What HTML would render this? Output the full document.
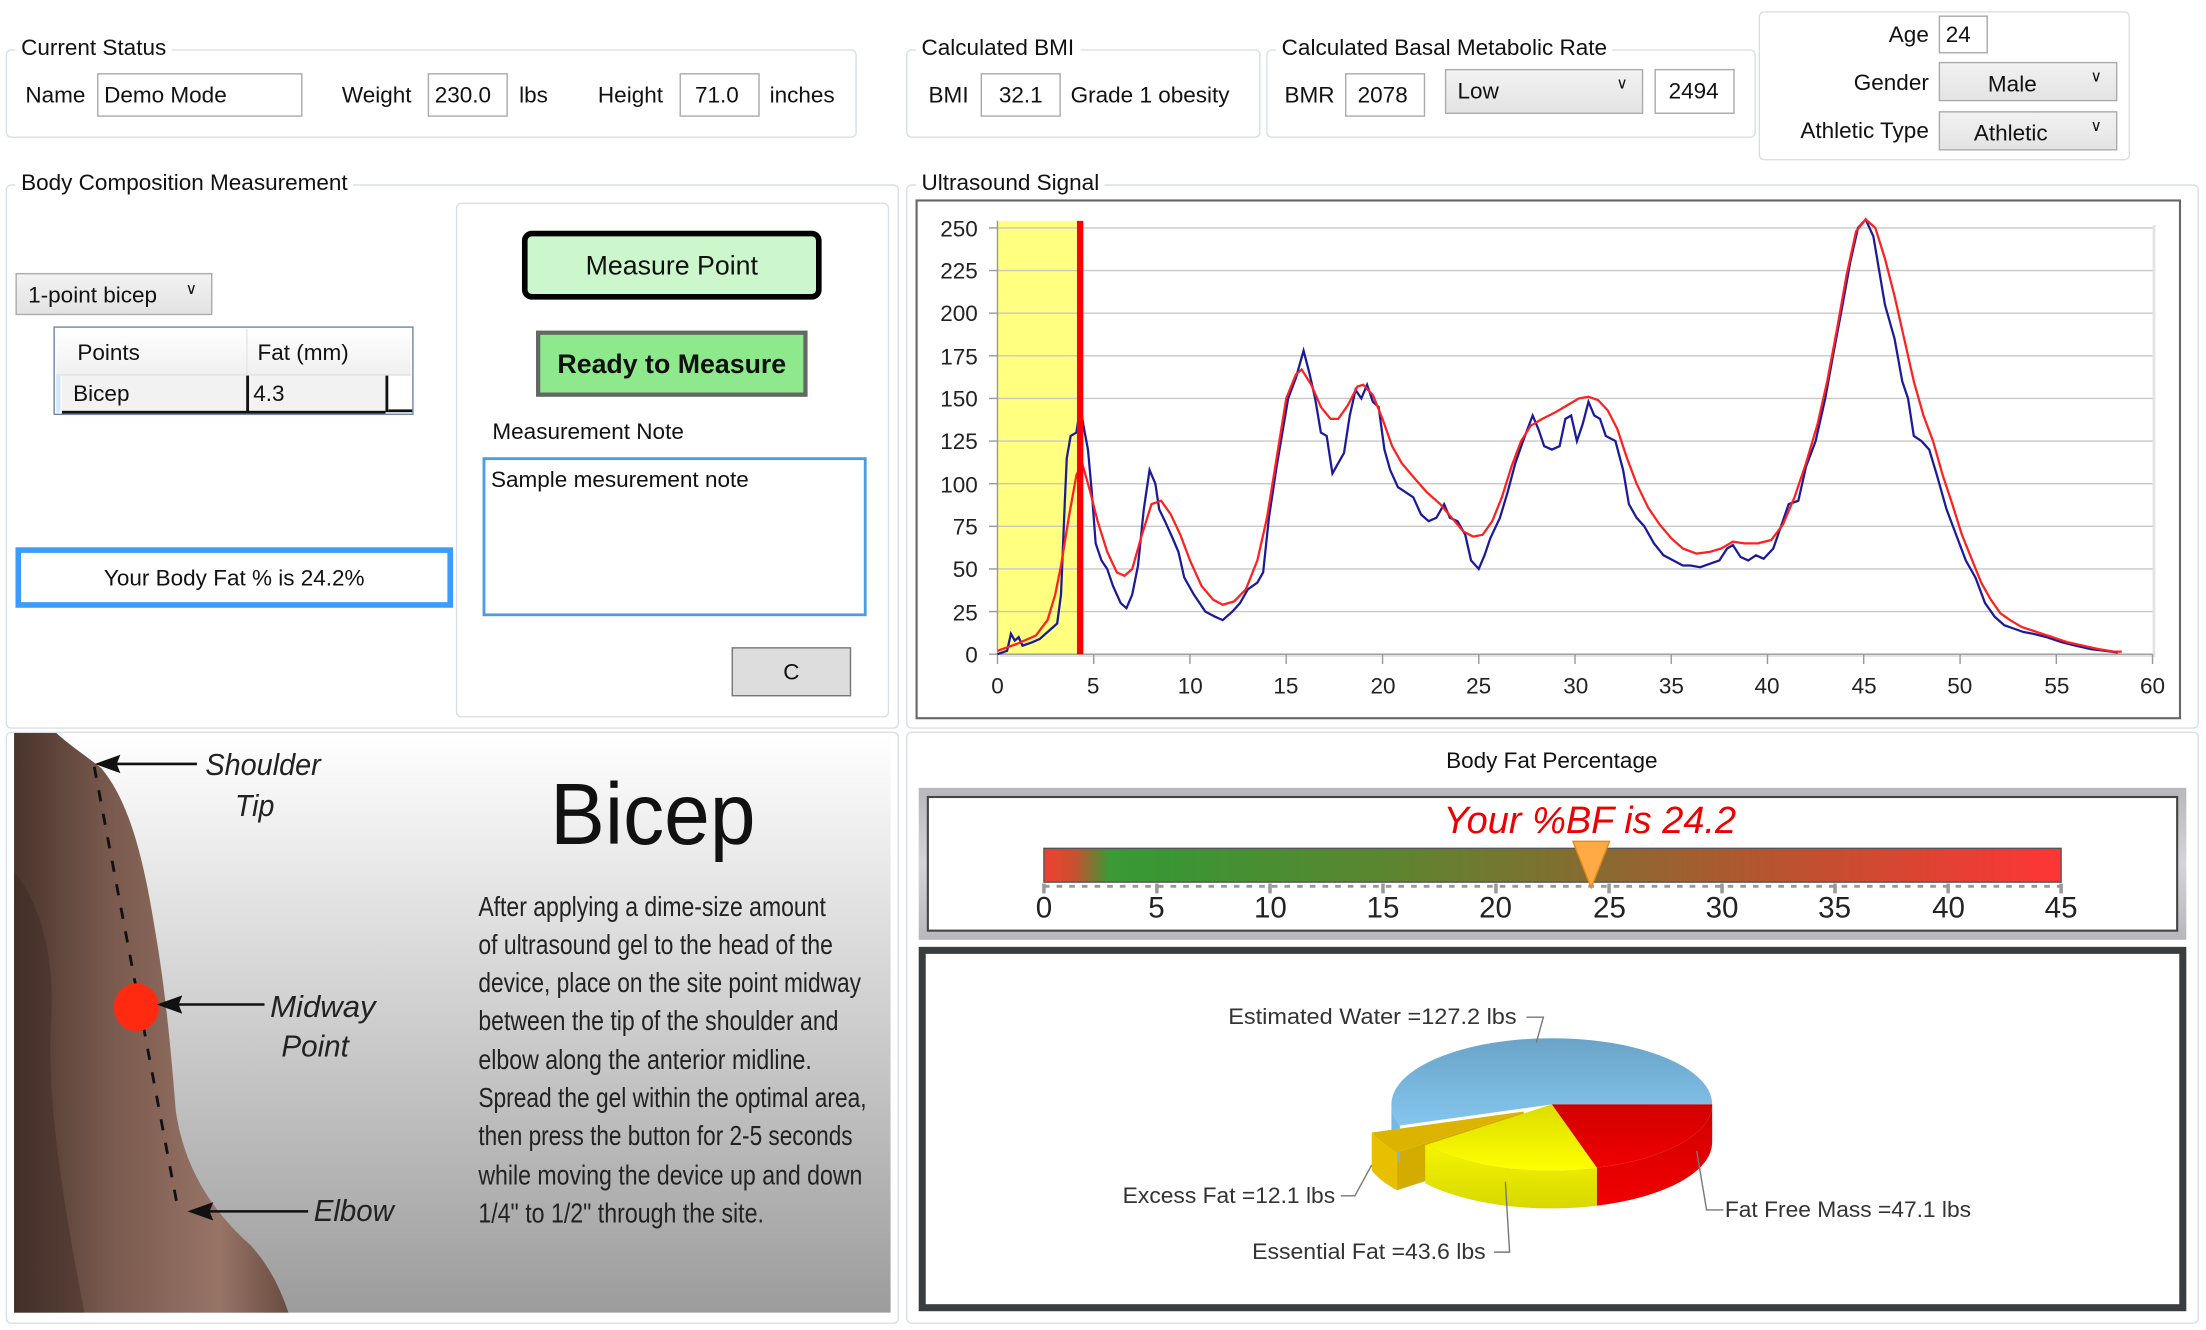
<!DOCTYPE html>
<html><head><meta charset="utf-8"><style>
html,body{margin:0;padding:0;background:#fff;width:2206px;height:1330px;overflow:hidden}
#w{position:absolute;left:0;top:0;width:1568px;height:945px;transform:scale(1.40689);transform-origin:0 0;font-family:"Liberation Sans",sans-serif;font-size:16px;color:#111}
.a{position:absolute}
.g{position:absolute;border:1.5px solid #d8e0e6;border-radius:4px}
.t{position:absolute;background:#fff;padding:0 4px;font-size:16px;line-height:18px}
.in{position:absolute;border:1px solid #aaa;background:#fff;font-size:16px;line-height:31px;padding-left:4px;box-sizing:border-box}
.cb{position:absolute;border:1px solid #aaa;background:linear-gradient(#f2f2f2,#e3e3e3);box-sizing:border-box;font-size:16px}
.cb i{position:absolute;right:10px;top:3px;font-style:normal;font-size:11px}
</style></head><body><div id="w">

<!-- Current Status -->
<div class="g" style="left:4px;top:35px;width:603px;height:61px"></div>
<div class="t" style="left:11px;top:26px">Current Status</div>
<div class="a" style="left:18px;top:60px">Name</div>
<div class="in" style="left:69px;top:52px;width:146px;height:31px">Demo Mode</div>
<div class="a" style="left:243px;top:60px">Weight</div>
<div class="in" style="left:304px;top:52px;width:57px;height:31px">230.0</div>
<div class="a" style="left:369px;top:60px">lbs</div>
<div class="a" style="left:425px;top:60px">Height</div>
<div class="in" style="left:483px;top:52px;width:57px;height:31px;padding-left:10px">71.0</div>
<div class="a" style="left:547px;top:60px">inches</div>

<!-- BMI -->
<div class="g" style="left:644px;top:35px;width:250px;height:61px"></div>
<div class="t" style="left:651px;top:26px">Calculated BMI</div>
<div class="a" style="left:660px;top:60px">BMI</div>
<div class="in" style="left:697px;top:52px;width:57px;height:31px;padding-left:12px">32.1</div>
<div class="a" style="left:761px;top:60px">Grade 1 obesity</div>

<!-- BMR -->
<div class="g" style="left:900px;top:35px;width:346px;height:61px"></div>
<div class="t" style="left:907px;top:26px">Calculated Basal Metabolic Rate</div>
<div class="a" style="left:913px;top:60px">BMR</div>
<div class="in" style="left:956px;top:52px;width:57px;height:31px;padding-left:8px">2078</div>
<div class="cb" style="left:1027px;top:49px;width:141px;height:32px;padding:7px 8px">Low<i>&#8744;</i></div>
<div class="in" style="left:1176px;top:49px;width:57px;height:32px;padding-left:9px">2494</div>

<!-- Age group -->
<div class="g" style="left:1250px;top:8px;width:262px;height:104px"></div>
<div class="a" style="left:1300px;top:17px;width:71px;text-align:right">Age</div>
<div class="in" style="left:1378px;top:11px;width:35px;height:27px;line-height:27px">24</div>
<div class="a" style="left:1260px;top:51px;width:111px;text-align:right">Gender</div>
<div class="cb" style="left:1378px;top:44px;width:127px;height:28px;padding:7px 0 0 34px">Male<i>&#8744;</i></div>
<div class="a" style="left:1250px;top:85px;width:121px;text-align:right">Athletic Type</div>
<div class="cb" style="left:1378px;top:79px;width:127px;height:28px;padding:7px 0 0 24px">Athletic<i>&#8744;</i></div>

<!-- Body composition -->
<div class="g" style="left:4px;top:131px;width:633px;height:385px"></div>
<div class="t" style="left:11px;top:122px">Body Composition Measurement</div>
<div class="cb" style="left:11px;top:194px;width:140px;height:30px;padding:7px 0 0 8px">1-point bicep<i style="top:4px">&#8744;</i></div>
<div class="a" style="left:38px;top:232px;width:254px;height:61px;border:1.5px solid #6c86aa;background:#fff"></div>
<div class="a" style="left:40px;top:234px;width:252px;height:32px;background:linear-gradient(#fff,#f0f0f0);border-bottom:1px solid #ddd"></div>
<div class="a" style="left:55px;top:243px">Points</div>
<div class="a" style="left:183px;top:243px">Fat (mm)</div>
<div class="a" style="left:175px;top:234px;width:1px;height:32px;background:#e6e6e6"></div>
<div class="a" style="left:44px;top:267px;width:230px;height:25px;background:#f2f2f2;border-bottom:2px solid #111"></div>
<div class="a" style="left:40px;top:267px;width:3px;height:26px;background:#cfe6fb"></div>
<div class="a" style="left:175px;top:267px;width:1.5px;height:26px;background:#111"></div>
<div class="a" style="left:274px;top:267px;width:1.5px;height:26px;background:#111"></div>
<div class="a" style="left:276px;top:291px;width:17px;height:2px;background:#111"></div>
<div class="a" style="left:52px;top:272px">Bicep</div>
<div class="a" style="left:180px;top:272px">4.3</div>
<div class="a" style="left:11px;top:389px;width:303px;height:35px;border:4px solid #3b9cff;text-align:center;line-height:37px">Your Body Fat % is 24.2%</div>

<div class="a" style="left:324px;top:144px;width:306px;height:364px;border:1.5px solid #d8e0e6;border-radius:4px"></div>
<div class="a" style="left:371px;top:164px;width:205px;height:41px;border:4px solid #000;border-radius:7px;background:#ccf7cc;text-align:center;line-height:43px;font-size:19px">Measure Point</div>
<div class="a" style="left:381px;top:235px;width:187px;height:41px;border:3px solid #666;background:#8ee98c;text-align:center;line-height:44px;font-size:19px;font-weight:bold">Ready to Measure</div>
<div class="a" style="left:350px;top:299px">Measurement Note</div>
<div class="a" style="left:343px;top:325px;border:2px solid #4a9ce8;padding:6px 4px;width:261px;height:97px">Sample mesurement note</div>
<div class="a" style="left:520px;top:460px;width:83px;height:33px;border:1.5px solid #777;background:#ddd;text-align:center;line-height:35px">C</div>

<!-- Ultrasound -->
<div class="g" style="left:644px;top:131px;width:917px;height:385px"></div>
<div class="t" style="left:651px;top:122px">Ultrasound Signal</div>
<svg class="a" style="left:0;top:0" width="1568" height="945" font-family="Liberation Sans" font-size="16">
<rect x="651.5" y="142.5" width="898" height="368" fill="#fff" stroke="#666" stroke-width="1.5"/>
<rect x="711" y="160" width="821" height="307" fill="#d0d0d0" opacity="0.6"/>
<rect x="709" y="157" width="821" height="308" fill="#fff"/>
<rect x="709" y="157" width="58" height="308" fill="#ffff80"/>
<g stroke="#c8c8c8" stroke-width="1">
<line x1="709" x2="1530" y1="162" y2="162"/><line x1="709" x2="1530" y1="192.3" y2="192.3"/><line x1="709" x2="1530" y1="222.6" y2="222.6"/><line x1="709" x2="1530" y1="252.9" y2="252.9"/><line x1="709" x2="1530" y1="283.2" y2="283.2"/><line x1="709" x2="1530" y1="313.5" y2="313.5"/><line x1="709" x2="1530" y1="343.8" y2="343.8"/><line x1="709" x2="1530" y1="374.1" y2="374.1"/><line x1="709" x2="1530" y1="404.4" y2="404.4"/><line x1="709" x2="1530" y1="434.7" y2="434.7"/>
</g>
<g stroke="#999" stroke-width="1">
<line x1="709" x2="709" y1="157" y2="472"/><line x1="703" x2="1530" y1="465" y2="465"/>
<line x1="703" x2="709" y1="162" y2="162"/><line x1="703" x2="709" y1="192.3" y2="192.3"/><line x1="703" x2="709" y1="222.6" y2="222.6"/><line x1="703" x2="709" y1="252.9" y2="252.9"/><line x1="703" x2="709" y1="283.2" y2="283.2"/><line x1="703" x2="709" y1="313.5" y2="313.5"/><line x1="703" x2="709" y1="343.8" y2="343.8"/><line x1="703" x2="709" y1="374.1" y2="374.1"/><line x1="703" x2="709" y1="404.4" y2="404.4"/><line x1="703" x2="709" y1="434.7" y2="434.7"/>
<line x1="777.4" x2="777.4" y1="465" y2="472"/><line x1="845.8" x2="845.8" y1="465" y2="472"/><line x1="914.2" x2="914.2" y1="465" y2="472"/><line x1="982.7" x2="982.7" y1="465" y2="472"/><line x1="1051.1" x2="1051.1" y1="465" y2="472"/><line x1="1119.5" x2="1119.5" y1="465" y2="472"/><line x1="1187.9" x2="1187.9" y1="465" y2="472"/><line x1="1256.3" x2="1256.3" y1="465" y2="472"/><line x1="1324.7" x2="1324.7" y1="465" y2="472"/><line x1="1393.2" x2="1393.2" y1="465" y2="472"/><line x1="1461.6" x2="1461.6" y1="465" y2="472"/><line x1="1530" x2="1530" y1="465" y2="472"/>
</g>
<g text-anchor="end" fill="#222">
<text x="695" y="168">250</text><text x="695" y="198">225</text><text x="695" y="228">200</text><text x="695" y="259">175</text><text x="695" y="289">150</text><text x="695" y="319">125</text><text x="695" y="350">100</text><text x="695" y="380">75</text><text x="695" y="410">50</text><text x="695" y="441">25</text><text x="695" y="471">0</text>
</g>
<g text-anchor="middle" fill="#222">
<text x="709" y="493">0</text><text x="777" y="493">5</text><text x="846" y="493">10</text><text x="914" y="493">15</text><text x="983" y="493">20</text><text x="1051" y="493">25</text><text x="1120" y="493">30</text><text x="1188" y="493">35</text><text x="1256" y="493">40</text><text x="1325" y="493">45</text><text x="1393" y="493">50</text><text x="1462" y="493">55</text><text x="1530" y="493">60</text>
</g>
<g transform="translate(709,465) scale(13.683,-1.212)" fill="none">
<polyline vector-effect="non-scaling-stroke" stroke="#1a1a9a" stroke-width="1.6" points="0,0 0.5,2 0.7,12 0.9,8 1.1,10 1.3,5 1.8,7 2.2,9 2.5,12 2.8,15 3.1,18 3.3,35 3.5,90 3.6,115 3.8,128 4.1,130 4.3,145 4.5,132 4.7,120 4.9,95 5.1,65 5.4,55 5.7,50 6.0,40 6.4,30 6.7,27 7.0,35 7.3,52 7.6,85 7.9,108 8.2,100 8.4,85 8.7,78 9.1,68 9.4,60 9.7,45 10.2,35 10.8,25 11.3,22 11.7,20 12.2,25 12.6,30 13.0,38 13.5,42 13.8,48 14.1,80 14.5,110 14.8,130 15.1,150 15.5,162 15.9,178 16.2,165 16.5,150 16.8,130 17.1,128 17.4,106 17.7,112 18.0,118 18.3,140 18.6,155 18.9,150 19.2,158 19.5,148 19.8,145 20.1,120 20.4,108 20.8,98 21.2,95 21.6,92 22.0,82 22.4,78 22.8,80 23.2,88 23.5,80 23.9,78 24.3,70 24.6,55 25.0,50 25.3,58 25.6,68 26.1,80 26.5,95 26.9,112 27.3,125 27.8,140 28.1,132 28.4,122 28.8,120 29.2,122 29.5,138 29.8,140 30.1,125 30.4,135 30.7,148 31.0,140 31.3,138 31.6,128 32.1,125 32.5,108 32.8,88 33.2,80 33.6,75 34.1,65 34.6,58 35.1,55 35.6,52 36.0,52 36.5,51 37.0,53 37.5,55 37.9,62 38.2,64 38.6,57 39.0,55 39.4,58 39.8,56 40.3,62 40.7,75 41.1,88 41.6,90 42.0,110 42.5,125 43.0,150 43.4,175 43.9,205 44.3,230 44.7,250 45.1,255 45.5,245 45.8,225 46.1,205 46.6,185 47.0,160 47.3,150 47.6,128 48.0,125 48.4,120 48.8,105 49.3,85 49.8,70 50.3,55 50.8,45 51.3,30 51.8,22 52.3,17 52.8,15 53.3,13 53.8,12 54.5,10 55.3,7 56.0,5 56.8,3 57.5,2 58.2,1"/>
<polyline vector-effect="non-scaling-stroke" stroke="#ff2020" stroke-width="1.6" points="0,2 1,6 2,11 2.6,20 3.0,35 3.3,52 3.7,80 4.1,105 4.4,112 4.8,96 5.2,78 5.7,60 6.2,48 6.6,46 7.0,50 7.5,70 8.0,88 8.5,90 9.0,82 9.5,70 10.0,55 10.6,40 11.2,32 11.7,29 12.3,31 12.9,38 13.5,55 14.0,80 14.5,115 15.0,150 15.5,164 15.8,167 16.3,158 16.8,145 17.3,138 17.7,138 18.2,146 18.7,157 19.0,158 19.5,152 20.0,138 20.5,122 21.0,112 21.6,104 22.3,95 23.0,88 23.6,80 24.2,72 24.7,69 25.2,70 25.7,78 26.2,92 26.7,110 27.2,125 27.7,134 28.3,138 29.0,142 29.6,146 30.2,150 30.7,151 31.2,149 31.7,143 32.2,132 32.7,115 33.2,100 33.8,86 34.4,76 35.0,68 35.6,62 36.3,59 37.0,60 37.6,62 38.2,66 38.8,65 39.5,65 40.2,67 40.8,76 41.4,92 42.0,112 42.6,135 43.1,160 43.6,190 44.1,222 44.6,248 45.1,255 45.6,250 46.1,232 46.6,210 47.1,185 47.6,160 48.1,140 48.6,125 49.1,105 49.6,88 50.1,70 50.6,56 51.1,42 51.6,32 52.1,24 52.6,20 53.2,16 54.0,13 54.8,10 55.6,7 56.4,5 57.2,3 58.0,1.5 58.4,1.5"/>
</g>
<rect x="765.5" y="157" width="4.5" height="308" fill="#ff0000"/>
</svg>

<!-- Bicep image panel -->
<div class="g" style="left:4px;top:520px;width:633px;height:419px"></div>
<svg class="a" style="left:0;top:0" width="1568" height="945">
<defs>
<linearGradient id="bg" x1="0" y1="0" x2="0" y2="1"><stop offset="0" stop-color="#ffffff"/><stop offset="1" stop-color="#9c9c9c"/></linearGradient>
<linearGradient id="skin" x1="0" y1="0" x2="1" y2="0"><stop offset="0" stop-color="#4a342c"/><stop offset="0.35" stop-color="#7a5a4e"/><stop offset="0.75" stop-color="#977466"/><stop offset="1" stop-color="#6a4c40"/></linearGradient>
</defs>
<rect x="10" y="521" width="623" height="412" fill="url(#bg)"/>
<path d="M10,521 L40,521 C50,530 62,538 72,546 C92,570 102,610 110,660 C117,700 121,740 125,790 C131,830 150,860 178,885 C192,900 200,918 205,933 L10,933 Z" fill="url(#skin)"/>
<path d="M10,620 C28,640 40,680 36,730 C34,780 42,840 60,933 L10,933 Z" fill="#3a2822" opacity="0.4"/>
<line x1="67" y1="545" x2="127" y2="862" stroke="#111" stroke-width="2" stroke-dasharray="8,9"/>
<ellipse cx="97" cy="716" rx="16" ry="17" fill="#ff2a10"/>
<g stroke="#111" stroke-width="1.8" fill="#111">
<line x1="80" y1="543" x2="140" y2="543"/><path d="M70,543 L84,538 L82,543 L84,548 Z"/>
<line x1="124" y1="714" x2="188" y2="714"/><path d="M114,714 L128,709 L126,714 L128,719 Z"/>
<line x1="146" y1="861" x2="219" y2="861"/><path d="M136,861 L150,856 L148,861 L150,866 Z"/>
</g>
<g font-family="Liberation Sans" font-style="italic" font-size="22" fill="#222">
<text x="146" y="551" textLength="82" lengthAdjust="spacingAndGlyphs">Shoulder</text>
<text x="167" y="580" textLength="28" lengthAdjust="spacingAndGlyphs">Tip</text>
<text x="192" y="723" textLength="75" lengthAdjust="spacingAndGlyphs">Midway</text>
<text x="200" y="751" textLength="48" lengthAdjust="spacingAndGlyphs">Point</text>
<text x="223" y="868" textLength="57" lengthAdjust="spacingAndGlyphs">Elbow</text>
</g>
<text x="391" y="600" font-family="Liberation Sans" font-size="62" fill="#111" textLength="146" lengthAdjust="spacingAndGlyphs">Bicep</text>
<g font-family="Liberation Sans" font-size="20" fill="#222">
<text x="340" y="651" textLength="247" lengthAdjust="spacingAndGlyphs">After applying a dime-size amount</text>
<text x="340" y="678" textLength="252" lengthAdjust="spacingAndGlyphs">of ultrasound gel to the head of the</text>
<text x="340" y="705" textLength="272" lengthAdjust="spacingAndGlyphs">device, place on the site point midway</text>
<text x="340" y="732" textLength="256" lengthAdjust="spacingAndGlyphs">between the tip of the shoulder and</text>
<text x="340" y="760" textLength="237" lengthAdjust="spacingAndGlyphs">elbow along the anterior midline.</text>
<text x="340" y="787" textLength="276" lengthAdjust="spacingAndGlyphs">Spread the gel within the optimal area,</text>
<text x="340" y="814" textLength="266" lengthAdjust="spacingAndGlyphs">then press the button for 2-5 seconds</text>
<text x="340" y="842" textLength="273" lengthAdjust="spacingAndGlyphs">while moving the device up and down</text>
<text x="340" y="869" textLength="203" lengthAdjust="spacingAndGlyphs">1/4" to 1/2" through the site.</text>
</g>
</svg>

<!-- Body fat percentage -->
<div class="g" style="left:644px;top:520px;width:917px;height:419px"></div>
<svg class="a" style="left:0;top:0" width="1568" height="945" font-family="Liberation Sans">
<defs>
<linearGradient id="bar" x1="0" y1="0" x2="1" y2="0">
<stop offset="0" stop-color="#f04030"/><stop offset="0.03" stop-color="#c85030"/><stop offset="0.065" stop-color="#3a9a35"/><stop offset="0.12" stop-color="#3a9634"/><stop offset="0.35" stop-color="#5e8430"/><stop offset="0.55" stop-color="#8a6a30"/><stop offset="0.75" stop-color="#c05030"/><stop offset="1" stop-color="#ff3535"/></linearGradient>
<linearGradient id="gp" x1="0" y1="0" x2="0" y2="1"><stop offset="0" stop-color="#b8b8bc"/><stop offset="0.5" stop-color="#d4d4d8"/><stop offset="1" stop-color="#b8b8bc"/></linearGradient>
<linearGradient id="blue" x1="0" y1="0" x2="0" y2="1"><stop offset="0" stop-color="#6aa3c8"/><stop offset="1" stop-color="#84c6ee"/></linearGradient>
<linearGradient id="red" x1="0" y1="0" x2="0" y2="1"><stop offset="0" stop-color="#d00000"/><stop offset="1" stop-color="#f20000"/></linearGradient>
<linearGradient id="yel" x1="0" y1="0" x2="0" y2="1"><stop offset="0" stop-color="#dcdc00"/><stop offset="1" stop-color="#ffff00"/></linearGradient>
<linearGradient id="yels" x1="0" y1="0" x2="0" y2="1"><stop offset="0" stop-color="#f4f400"/><stop offset="1" stop-color="#d8d800"/></linearGradient>
</defs>
<text x="1103" y="546" text-anchor="middle" font-size="16" fill="#111">Body Fat Percentage</text>
<rect x="653" y="560" width="901" height="108" fill="url(#gp)"/>
<rect x="659.5" y="566.5" width="888" height="95" fill="#fff" stroke="#444" stroke-width="1.5"/>
<text x="1130" y="592" text-anchor="middle" font-size="27" font-style="italic" fill="#ee0000">Your %BF is 24.2</text>
<rect x="742" y="603" width="723" height="24" fill="url(#bar)" stroke="#555" stroke-width="1"/>
<line x1="742" x2="1465" y1="630" y2="630" stroke="#999" stroke-width="2" stroke-dasharray="4,5"/>
<g stroke="#999" stroke-width="2.5">
<line x1="742" x2="742" y1="628" y2="635"/><line x1="822.3" x2="822.3" y1="628" y2="635"/><line x1="902.7" x2="902.7" y1="628" y2="635"/><line x1="983" x2="983" y1="628" y2="635"/><line x1="1063.3" x2="1063.3" y1="628" y2="635"/><line x1="1143.7" x2="1143.7" y1="628" y2="635"/><line x1="1224" x2="1224" y1="628" y2="635"/><line x1="1304.3" x2="1304.3" y1="628" y2="635"/><line x1="1384.7" x2="1384.7" y1="628" y2="635"/><line x1="1465" x2="1465" y1="628" y2="635"/>
</g>
<g font-size="21" fill="#222" text-anchor="middle">
<text x="742" y="652">0</text><text x="822" y="652">5</text><text x="903" y="652">10</text><text x="983" y="652">15</text><text x="1063" y="652">20</text><text x="1144" y="652">25</text><text x="1224" y="652">30</text><text x="1304" y="652">35</text><text x="1385" y="652">40</text><text x="1465" y="652">45</text>
</g>
<path d="M1118,598 L1144,598 L1131,631 Z" fill="#ffaa44" stroke="#e08a20" stroke-width="1"/>

<rect x="655.5" y="675.5" width="896" height="254" fill="#fff" stroke="#3a3d40" stroke-width="5"/>
<!-- pie -->
<path d="M1083,790 L993,819 L993,846 L1083,817 Z" fill="#d4ac00"/>
<path d="M995,800 A114,47 0 0,1 989,785 L989,812 A114,47 0 0,0 995,827 Z" fill="#78b8e0"/>
<path d="M1217,785 A114,47 0 0,1 1135,830 L1135,857 A114,47 0 0,0 1217,812 Z" fill="url(#red)"/>
<path d="M1135,830 A114,47 0 0,1 1013,814 L1013,841 A114,47 0 0,0 1135,857 Z" fill="url(#yels)"/>
<path d="M1103,785 L995,800 A114,47 0 1,1 1217,785 Z" fill="url(#blue)"/>
<path d="M1103,785 L1217,785 A114,47 0 0,1 1135,830 Z" fill="url(#red)"/>
<path d="M1103,785 L1135,830 A114,47 0 0,1 1013,814 Z" fill="url(#yel)"/>
<path d="M1083,790 L975,805 A114,47 0 0,0 993,819 Z" fill="#dcb400"/>
<path d="M975,805 A114,47 0 0,0 993,819 L993,846 A114,47 0 0,1 975,832 Z" fill="#e8c000"/>
<g stroke="#777" stroke-width="1" fill="none">
<polyline points="1085,723 1097,723 1092,741"/>
<polyline points="953,850 963,850 975,828"/>
<polyline points="1062,890 1073,890 1070,840"/>
<polyline points="1225,860 1213,860 1206,818"/>
</g>
<g font-size="16" fill="#333">
<text x="873" y="728" textLength="205" lengthAdjust="spacingAndGlyphs">Estimated Water =127.2 lbs</text>
<text x="798" y="855" textLength="151" lengthAdjust="spacingAndGlyphs">Excess Fat =12.1 lbs</text>
<text x="890" y="895" textLength="166" lengthAdjust="spacingAndGlyphs">Essential Fat =43.6 lbs</text>
<text x="1226" y="865" textLength="175" lengthAdjust="spacingAndGlyphs">Fat Free Mass =47.1 lbs</text>
</g>
</svg>
</div></body></html>
